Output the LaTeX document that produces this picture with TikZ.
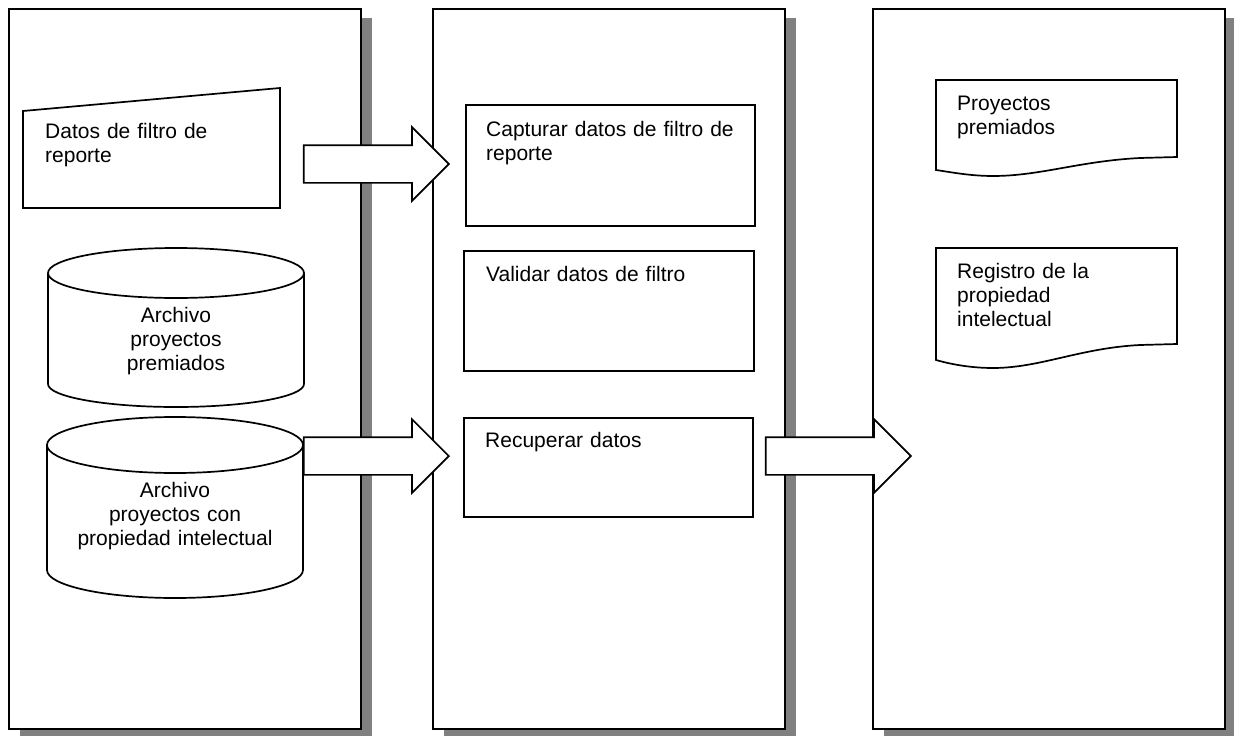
\documentclass[tikz,border=0pt]{standalone}
\usepackage{fontspec}
\setmainfont{Liberation Sans}
\usetikzlibrary{shapes.arrows,shadows}

\tikzset{
  panel/.style={draw,line width=1.9pt,fill=white,anchor=north west,inner sep=0,
    drop shadow={shadow xshift=11pt,shadow yshift=-9pt,fill=black!50,opacity=1}},
  forma/.style={draw,line width=1.7pt,fill=white},
  caja/.style={forma,anchor=north west,inner sep=0},
  txt/.style={inner sep=0,anchor=base west,text width=260pt,align=left,
    font=\fontsize{21}{24}\selectfont},
  txtc/.style={txt,anchor=base,align=center},
  flecha/.style={single arrow,draw,line width=1.7pt,fill=white,inner xsep=0,inner ysep=18pt,
    single arrow head extend=18pt,single arrow tip angle=90,minimum height=145pt}
}

\begin{document}
\begin{tikzpicture}[x=1pt,y=-1pt]
  \fill[white] (0,0) rectangle (1234,736);
  \useasboundingbox (0,0) rectangle (1234,736);

  % columnas
  \node[panel,minimum width=352,minimum height=720] (entrada) at (8,8) {};
  \node[panel,minimum width=352,minimum height=720] (proceso) at (432,8) {};
  \node[panel,minimum width=352,minimum height=720] (salida) at (872,8) {};

  % entradas
  \draw[forma] (23,111) -- (280,88) -- (280,208) -- (23,208) -- cycle;
  \node[txt] (datos) at (45,138) {Datos de filtro de\\reporte};

  \draw[forma] (48,273) -- (48,384) arc[start angle=180,end angle=0,x radius=128,y radius=23]
    -- (304,273) arc[start angle=0,end angle=-180,x radius=128,y radius=25] -- cycle;
  \draw[line width=1.7pt] (48,273) arc[start angle=180,end angle=0,x radius=128,y radius=25];
  \node[txtc] (premiados) at (176,322) {Archivo\\proyectos\\premiados};

  \draw[forma] (47,445) -- (47,570) arc[start angle=180,end angle=0,x radius=128,y radius=28]
    -- (303,445) arc[start angle=0,end angle=-180,x radius=128,y radius=28] -- cycle;
  \draw[line width=1.7pt] (47,445) arc[start angle=180,end angle=0,x radius=128,y radius=28];
  \node[txtc] (propiedad) at (175,497) {Archivo\\proyectos con\\propiedad intelectual};

  % procesos
  \node[caja,minimum width=289,minimum height=121] (capturar) at (465,104) {};
  \node[txt] (tcapturar) at (486,136) {Capturar datos de filtro de\\reporte};
  \node[caja,minimum width=290,minimum height=120] (validar) at (463,250) {};
  \node[txt] (tvalidar) at (486,281) {Validar datos de filtro};
  \node[caja,minimum width=289,minimum height=99] (recuperar) at (463,417) {};
  \node[txt] (trecuperar) at (485,447) {Recuperar datos};

  % salidas
  \draw[forma] (936,80) -- (1177,80) -- (1177,157) -- (1140,158)
    .. controls (1080,161) and (1040,176) .. (993,176)
    .. controls (970,176) and (950,172) .. (936,170) -- cycle;
  \node[txt] (proyectos) at (957,110) {Proyectos\\premiados};
  \draw[forma] (936,248) -- (1177,248) -- (1177,344) -- (1140,345)
    .. controls (1080,348) and (1040,368) .. (993,368)
    .. controls (970,368) and (950,364) .. (936,360) -- cycle;
  \node[txt] (registro) at (957,278) {Registro de la\\propiedad\\intelectual};

  % flechas
  \node[flecha,anchor=tip] (f1) at (450,164) {};
  \node[flecha,anchor=tip] (f2) at (450,456) {};
  \node[flecha,anchor=tip] (f3) at (912,456) {};
\end{tikzpicture}
\end{document}
